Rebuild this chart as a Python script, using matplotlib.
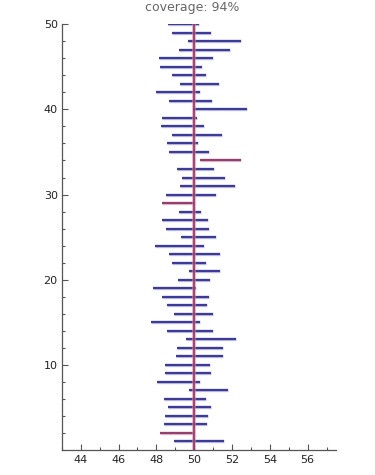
import matplotlib
matplotlib.use("Agg")
import matplotlib.pyplot as plt
from matplotlib.ticker import MultipleLocator

true_mean = 50
rows = list(range(1, 51))
lower = [48.91, 48.17, 48.40, 48.47, 48.61, 48.40, 49.70, 48.01, 48.47, 48.43,
         49.05, 49.08, 49.57, 48.57, 47.71, 48.93, 48.54, 48.31, 47.82, 49.12,
         49.70, 48.80, 48.66, 47.92, 49.30, 48.52, 48.31, 49.17, 48.27, 48.50,
         49.26, 49.35, 49.08, 50.33, 48.64, 48.54, 48.80, 48.22, 48.27, 49.93,
         48.64, 47.96, 49.26, 48.84, 48.20, 48.15, 49.21, 49.65, 48.85, 48.59]
upper = [51.57, 50.00, 50.67, 50.72, 50.90, 50.65, 51.81, 50.32, 50.88, 50.83,
         51.50, 51.53, 52.20, 51.02, 50.30, 51.02, 50.67, 50.78, 50.09, 50.83,
         51.36, 50.65, 51.37, 50.51, 51.15, 50.78, 50.72, 50.35, 50.00, 51.15,
         52.15, 51.64, 51.04, 52.48, 50.79, 50.19, 51.46, 50.53, 50.16, 52.78,
         50.92, 50.30, 51.29, 50.60, 50.42, 50.99, 51.87, 52.48, 50.88, 50.25]
missed = [2, 29, 34]
coverage = 94

blue = "#3c3c98"
red = "#963e6e"

fig = plt.figure(figsize=(3.75, 4.75), dpi=100)
ax = fig.add_axes([0.165, 0.0526, 0.731, 0.8964])

for r, lo, hi in zip(rows, lower, upper):
    c = red if r in missed else blue
    ax.plot([lo, hi], [r, r], color=c, lw=2.4, alpha=0.3, solid_capstyle="butt", zorder=2)
    ax.plot([lo, hi], [r, r], color=c, lw=1.6, solid_capstyle="butt", zorder=3)

ax.plot([true_mean, true_mean], [0, 50], color="#d48aa8", lw=2.6, alpha=0.7, zorder=4)
ax.plot([true_mean, true_mean], [0, 50], color="#8c2f5e", lw=1.1, zorder=5)

ax.set_xlim(43, 57.5)
ax.set_ylim(0, 50)
ax.xaxis.set_major_locator(MultipleLocator(2))
ax.xaxis.set_minor_locator(MultipleLocator(1))
ax.yaxis.set_major_locator(MultipleLocator(10))
ax.yaxis.set_minor_locator(MultipleLocator(2))
ax.set_yticks([10, 20, 30, 40, 50])
ax.tick_params(which="both", direction="in", color="#555555", labelsize=8, labelcolor="#222222")
ax.tick_params(which="major", length=4, width=0.8)
ax.tick_params(which="minor", length=2.5, width=0.8)
ax.tick_params(axis="y", pad=3)
for s in ["top", "right"]:
    ax.spines[s].set_visible(False)
for s in ["left", "bottom"]:
    ax.spines[s].set_color("#555555")
    ax.spines[s].set_linewidth(0.9)

fig.text(0.513, 0.997, f"coverage: {coverage}%", ha="center", va="top", fontsize=9, color="#666666")

fig.savefig("out.png", dpi=100)
